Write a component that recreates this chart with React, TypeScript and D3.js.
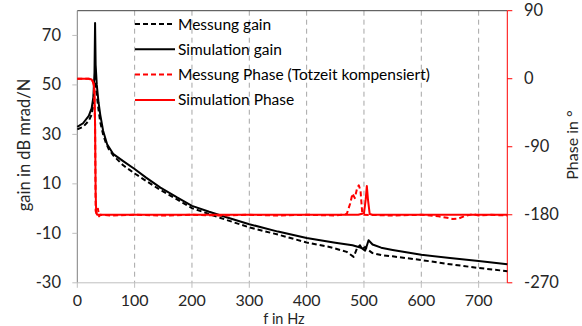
import React from "react";
import * as d3 from "d3";

const simGainF = [0, 10, 20, 25, 28, 30, 31, 32, 34, 37, 40, 45, 52, 63, 80, 100, 120, 145, 174, 200, 230, 260, 300, 350, 400, 450, 480, 495, 502, 505, 508, 515, 530, 550, 600, 650, 700, 750];
const simGainV = [33, 34.5, 37.5, 40.5, 45, 55, 75, 58, 50, 43, 38, 31.5, 26, 22, 19.2, 16, 12.5, 8.5, 4.5, 1.1, -1.3, -3.5, -6.3, -9.3, -11.9, -13.8, -14.8, -15.8, -17, -15, -12.8, -14.5, -15.8, -16.7, -18.7, -20, -21.2, -22.5];

const measGainF = [0, 10, 20, 25, 28, 30, 31, 32, 34, 37, 40, 45, 50, 55, 63, 80, 100, 120, 145, 174, 200, 250, 300, 350, 400, 440, 470, 482, 488, 493, 497, 502, 506, 515, 530, 550, 600, 650, 700, 750];
const measGainV = [32, 33, 35.5, 38, 42, 50, 53, 50, 46, 40, 35, 30, 26.5, 24, 21.4, 17.5, 14.2, 11.2, 7.5, 3.7, 0.2, -3.8, -7.6, -10.5, -13.7, -15.5, -17.5, -19.5, -16, -14.8, -16.5, -15.5, -16.5, -18, -18.8, -19.3, -20.8, -22.5, -24, -25.3];

const simPhaseF = [0, 20, 25, 28, 30, 31, 32, 33, 35, 100, 490, 500, 503, 505, 507, 510, 515, 750];
const simPhaseV = [0, 0, -1, -5, -15, -60, -150, -178, -180, -180, -180, -178, -160, -142, -160, -179, -180, -180];

const measPhaseF = [0, 20, 26, 29, 31, 32, 34, 36, 38, 40, 60, 100, 150, 200, 250, 300, 350, 400, 450, 470, 476, 480, 484, 488, 491, 494, 497, 500, 550, 600, 630, 645, 655, 665, 675, 690, 700, 720, 750];
const measPhaseV = [0, 0, -2, -8, -60, -175, -178, -172, -182, -180, -181, -180, -181, -180, -181, -180, -181, -180, -181, -179, -165, -152, -158, -145, -141, -148, -178, -180, -181, -180, -182, -184, -185.5, -185, -182, -179, -181, -180, -181];

const xTicks = [0, 100, 200, 300, 400, 500, 600, 700];
const yLeftTicks = [-30, -10, 10, 30, 50, 70];
const yRightTicks = [-270, -180, -90, 0, 90];

const legendLabels = ["Messung gain", "Simulation gain", "Messung Phase (Totzeit kompensiert)", "Simulation Phase"];

const FONT = "Lato, 'Open Sans', sans-serif";

export default function App() {
  const W = 582, H = 326;
  const L = 77.3, R = 507.3, T = 10.7, B = 282.8;
  const x = d3.scaleLinear().domain([0, 750]).range([L, R]);
  const yL = d3.scaleLinear().domain([-30, 80]).range([B, T]);
  const yR = d3.scaleLinear().domain([-270, 90]).range([B, T]);

  const mk = (fs: number[], vs: number[], y: d3.ScaleLinear<number, number>) =>
    d3.line<number>().x((_, i) => x(fs[i])).y((v) => y(v))(vs) || "";

  const series = [
    { d: mk(measGainF, measGainV, yL), color: "#000", dash: "5,3" },
    { d: mk(simGainF, simGainV, yL), color: "#000", dash: "" },
    { d: mk(measPhaseF, measPhaseV, yR), color: "#ff0000", dash: "5,3" },
    { d: mk(simPhaseF, simPhaseV, yR), color: "#ff0000", dash: "" },
  ];

  return (
    <svg width={W} height={H} style={{ position: "absolute", left: 0, top: 0, background: "#fff" }}>
      <rect x={0} y={0} width={W} height={H} fill="#fff" />
      {xTicks.filter((t) => t > 0).map((t) => (
        <line key={"g" + t} x1={x(t)} x2={x(t)} y1={T} y2={B} stroke="#a6a6a6" strokeWidth={1} strokeDasharray="5,4" />
      ))}
      <line x1={L} x2={R} y1={T} y2={T} stroke="#404040" strokeWidth={1} />
      <line x1={L} x2={L} y1={T} y2={B} stroke="#7f7f7f" strokeWidth={1} />
      <line x1={L} x2={R} y1={B} y2={B} stroke="#bfbfbf" strokeWidth={1} />
      <line x1={R} x2={R} y1={T} y2={B} stroke="#ff0000" strokeWidth={1} />
      {xTicks.map((t) => (
        <g key={"x" + t}>
          <line x1={x(t)} x2={x(t)} y1={B} y2={B + 5} stroke="#bfbfbf" />
          <text x={x(t)} y={306} textAnchor="middle" fontFamily={FONT} fontSize={16} fill="#262626">{t}</text>
        </g>
      ))}
      {yLeftTicks.map((t) => (
        <g key={"yl" + t}>
          <line x1={L - 5} x2={L} y1={yL(t)} y2={yL(t)} stroke="#bfbfbf" />
          <text x={61} y={yL(t) + 5.5} textAnchor="end" fontFamily={FONT} fontSize={16.5} fill="#262626">{t}</text>
        </g>
      ))}
      {yRightTicks.map((t) => (
        <g key={"yr" + t}>
          <line x1={R} x2={R + 5} y1={yR(t)} y2={yR(t)} stroke="#ff0000" />
          <text x={524} y={yR(t) + 5.5} textAnchor="start" fontFamily={FONT} fontSize={16.5} fill="#262626">{t}</text>
        </g>
      ))}
      {series.map((s, i) => (
        <path key={"s" + i} d={s.d} fill="none" stroke={s.color} strokeWidth={2} strokeDasharray={s.dash || undefined} strokeLinejoin="round" />
      ))}
      {legendLabels.map((lab, i) => {
        const yy = 24 + i * 25.3;
        return (
          <g key={"lg" + i}>
            <line x1={135} x2={175} y1={yy} y2={yy} stroke={series[i].color} strokeWidth={2} strokeDasharray={series[i].dash || undefined} />
            <text x={178} y={yy + 5.5} fontFamily={FONT} fontSize={15.5} fill="#000">{lab}</text>
          </g>
        );
      })}
      <text transform="translate(30,145) rotate(-90)" textAnchor="middle" fontFamily={FONT} fontSize={16.5} fill="#262626">gain in dB mrad/N</text>
      <text transform="translate(578,145) rotate(-90)" textAnchor="middle" fontFamily={FONT} fontSize={16} fill="#262626">Phase in °</text>
      <text x={284} y={324} textAnchor="middle" fontFamily={FONT} fontSize={14.5} fill="#262626">f in Hz</text>
    </svg>
  );
}
